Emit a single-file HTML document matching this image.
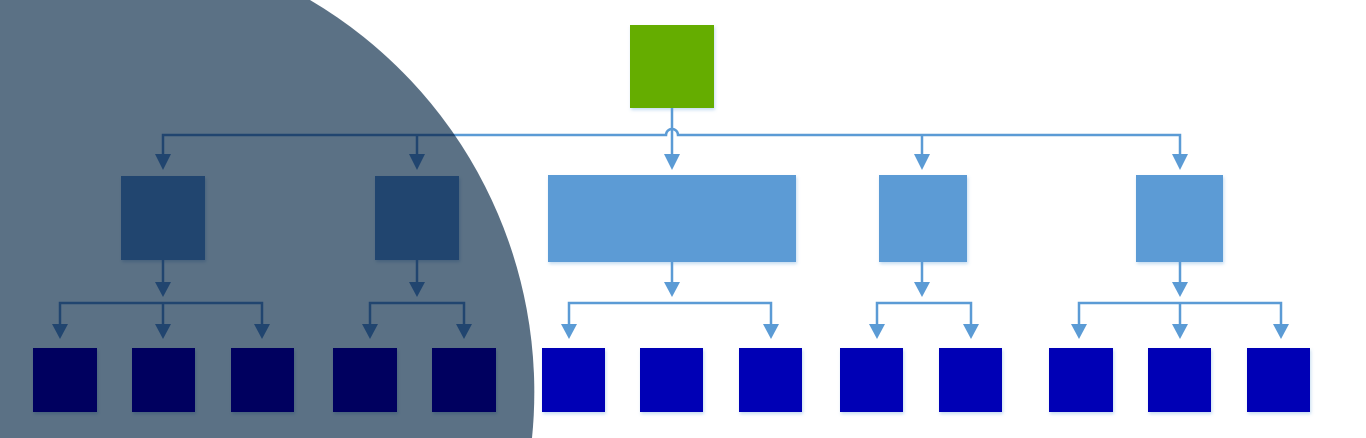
<!DOCTYPE html>
<html><head><meta charset="utf-8"><style>
html,body{margin:0;padding:0;background:#fff;width:1366px;height:438px;overflow:hidden}
svg{display:block}
</style></head><body>
<svg width="1366" height="438" viewBox="0 0 1366 438" xmlns="http://www.w3.org/2000/svg" style="position:absolute;left:0;top:0">
<defs>
<filter id="sh" x="-20%" y="-20%" width="140%" height="140%"><feDropShadow dx="1" dy="2" stdDeviation="1.5" flood-color="#5b9bd5" flood-opacity="0.35"/></filter>
</defs>
<g fill="none" stroke="#5b9bd5" stroke-width="2.5">
<path d="M672,108 V156"/>
<path d="M163,156 V135 H666 A6,6 0 0 1 678,135 H1180 V156" />
<path d="M417,135 V156"/><path d="M922,135 V156"/>
</g>
<g fill="#5b9bd5">
<path d="M155,154 L171,154 L163,170Z"/><path d="M409,154 L425,154 L417,170Z"/>
<path d="M664,154 L680,154 L672,170Z"/>
<path d="M914,154 L930,154 L922,170Z"/><path d="M1172,154 L1188,154 L1180,170Z"/>
</g>
<g fill="#5b9bd5" filter="url(#sh)">
<rect x="630" y="25" width="84" height="83" fill="#65ad00"/>
<rect x="121" y="176" width="84" height="84"/>
<rect x="375" y="176" width="84" height="84"/>
<rect x="548" y="175" width="248" height="87"/>
<rect x="879" y="175" width="88" height="87"/>
<rect x="1136" y="175" width="87" height="87"/>
</g>
<g fill="none" stroke="#5b9bd5" stroke-width="2.5">
<path d="M163,260 V284 M60,325 V303 H262 V325 M163,303 V325"/>
<path d="M417,260 V284 M370,325 V303 H464 V325"/>
<path d="M672,262 V284 M569,325 V303 H771 V325"/>
<path d="M922,262 V284 M877,325 V303 H971 V325"/>
<path d="M1180,262 V284 M1079,325 V303 H1281 V325 M1180,303 V325"/>
</g>
<g fill="#5b9bd5">
<path d="M155,282 h16 l-8,15z"/><path d="M409,282 h16 l-8,15z"/><path d="M664,282 h16 l-8,15z"/><path d="M914,282 h16 l-8,15z"/><path d="M1172,282 h16 l-8,15z"/>
<path d="M52,324 h16 l-8,15z"/><path d="M155,324 h16 l-8,15z"/><path d="M254,324 h16 l-8,15z"/>
<path d="M362,324 h16 l-8,15z"/><path d="M456,324 h16 l-8,15z"/>
<path d="M561,324 h16 l-8,15z"/><path d="M763,324 h16 l-8,15z"/>
<path d="M869,324 h16 l-8,15z"/><path d="M963,324 h16 l-8,15z"/>
<path d="M1071,324 h16 l-8,15z"/><path d="M1172,324 h16 l-8,15z"/><path d="M1273,324 h16 l-8,15z"/>
</g>
<g fill="#0505b5" filter="url(#sh)">
<rect x="33" y="348" width="64" height="64"/><rect x="132" y="348" width="63" height="64"/><rect x="231" y="348" width="63" height="64"/>
<rect x="333" y="348" width="64" height="64"/><rect x="432" y="348" width="64" height="64"/>
<rect x="542" y="348" width="63" height="64"/><rect x="640" y="348" width="63" height="64"/><rect x="739" y="348" width="63" height="64"/>
<rect x="840" y="348" width="63" height="64"/><rect x="939" y="348" width="63" height="64"/>
<rect x="1049" y="348" width="64" height="64"/><rect x="1148" y="348" width="63" height="64"/><rect x="1247" y="348" width="63" height="64"/>
</g>
<path d="M0,0 H310 A455,455 0 0 1 532,438 H0 Z" fill="#5b7185" style="mix-blend-mode:multiply"/>
</svg>
</body></html>
